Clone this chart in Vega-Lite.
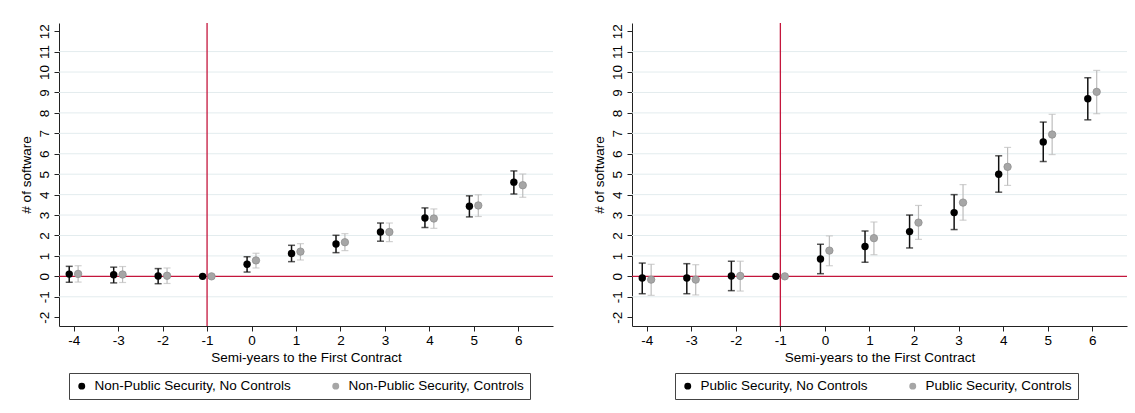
{
  "$schema": "https://vega.github.io/schema/vega-lite/v6.json",
  "background": "white",
  "padding": {"left": 19, "top": 22, "right": 0, "bottom": 0},
  "spacing": 38,
  "datasets": {
    "est": [
      {"panel": "Non-Public Security", "model": "No Controls", "series": "Non-Public Security, No Controls", "t": -4, "est": 0.11, "lo": -0.29, "hi": 0.49},
      {"panel": "Non-Public Security", "model": "No Controls", "series": "Non-Public Security, No Controls", "t": -3, "est": 0.08, "lo": -0.32, "hi": 0.45},
      {"panel": "Non-Public Security", "model": "No Controls", "series": "Non-Public Security, No Controls", "t": -2, "est": 0.02, "lo": -0.36, "hi": 0.38},
      {"panel": "Non-Public Security", "model": "No Controls", "series": "Non-Public Security, No Controls", "t": -1, "est": 0},
      {"panel": "Non-Public Security", "model": "No Controls", "series": "Non-Public Security, No Controls", "t": 0, "est": 0.59, "lo": 0.21, "hi": 0.96},
      {"panel": "Non-Public Security", "model": "No Controls", "series": "Non-Public Security, No Controls", "t": 1, "est": 1.12, "lo": 0.72, "hi": 1.52},
      {"panel": "Non-Public Security", "model": "No Controls", "series": "Non-Public Security, No Controls", "t": 2, "est": 1.58, "lo": 1.16, "hi": 2.01},
      {"panel": "Non-Public Security", "model": "No Controls", "series": "Non-Public Security, No Controls", "t": 3, "est": 2.17, "lo": 1.72, "hi": 2.61},
      {"panel": "Non-Public Security", "model": "No Controls", "series": "Non-Public Security, No Controls", "t": 4, "est": 2.86, "lo": 2.39, "hi": 3.35},
      {"panel": "Non-Public Security", "model": "No Controls", "series": "Non-Public Security, No Controls", "t": 5, "est": 3.43, "lo": 2.91, "hi": 3.94},
      {"panel": "Non-Public Security", "model": "No Controls", "series": "Non-Public Security, No Controls", "t": 6, "est": 4.61, "lo": 4.03, "hi": 5.16},
      {"panel": "Non-Public Security", "model": "Controls", "series": "Non-Public Security, Controls", "t": -4, "est": 0.12, "lo": -0.28, "hi": 0.52},
      {"panel": "Non-Public Security", "model": "Controls", "series": "Non-Public Security, Controls", "t": -3, "est": 0.09, "lo": -0.3, "hi": 0.48},
      {"panel": "Non-Public Security", "model": "Controls", "series": "Non-Public Security, Controls", "t": -2, "est": 0.03, "lo": -0.35, "hi": 0.41},
      {"panel": "Non-Public Security", "model": "Controls", "series": "Non-Public Security, Controls", "t": -1, "est": 0},
      {"panel": "Non-Public Security", "model": "Controls", "series": "Non-Public Security, Controls", "t": 0, "est": 0.78, "lo": 0.41, "hi": 1.13},
      {"panel": "Non-Public Security", "model": "Controls", "series": "Non-Public Security, Controls", "t": 1, "est": 1.21, "lo": 0.8, "hi": 1.6},
      {"panel": "Non-Public Security", "model": "Controls", "series": "Non-Public Security, Controls", "t": 2, "est": 1.67, "lo": 1.26, "hi": 2.09},
      {"panel": "Non-Public Security", "model": "Controls", "series": "Non-Public Security, Controls", "t": 3, "est": 2.17, "lo": 1.7, "hi": 2.61},
      {"panel": "Non-Public Security", "model": "Controls", "series": "Non-Public Security, Controls", "t": 4, "est": 2.83, "lo": 2.35, "hi": 3.3},
      {"panel": "Non-Public Security", "model": "Controls", "series": "Non-Public Security, Controls", "t": 5, "est": 3.47, "lo": 2.93, "hi": 3.99},
      {"panel": "Non-Public Security", "model": "Controls", "series": "Non-Public Security, Controls", "t": 6, "est": 4.46, "lo": 3.87, "hi": 5.01},
      {"panel": "Public Security", "model": "No Controls", "series": "Public Security, No Controls", "t": -4, "est": -0.08, "lo": -0.85, "hi": 0.65},
      {"panel": "Public Security", "model": "No Controls", "series": "Public Security, No Controls", "t": -3, "est": -0.08, "lo": -0.85, "hi": 0.62},
      {"panel": "Public Security", "model": "No Controls", "series": "Public Security, No Controls", "t": -2, "est": 0.02, "lo": -0.7, "hi": 0.74},
      {"panel": "Public Security", "model": "No Controls", "series": "Public Security, No Controls", "t": -1, "est": 0},
      {"panel": "Public Security", "model": "No Controls", "series": "Public Security, No Controls", "t": 0, "est": 0.85, "lo": 0.13, "hi": 1.57},
      {"panel": "Public Security", "model": "No Controls", "series": "Public Security, No Controls", "t": 1, "est": 1.46, "lo": 0.69, "hi": 2.22},
      {"panel": "Public Security", "model": "No Controls", "series": "Public Security, No Controls", "t": 2, "est": 2.19, "lo": 1.39, "hi": 3.0},
      {"panel": "Public Security", "model": "No Controls", "series": "Public Security, No Controls", "t": 3, "est": 3.12, "lo": 2.29, "hi": 4.0},
      {"panel": "Public Security", "model": "No Controls", "series": "Public Security, No Controls", "t": 4, "est": 5.0, "lo": 4.12, "hi": 5.9},
      {"panel": "Public Security", "model": "No Controls", "series": "Public Security, No Controls", "t": 5, "est": 6.58, "lo": 5.62, "hi": 7.55},
      {"panel": "Public Security", "model": "No Controls", "series": "Public Security, No Controls", "t": 6, "est": 8.69, "lo": 7.66, "hi": 9.72},
      {"panel": "Public Security", "model": "Controls", "series": "Public Security, Controls", "t": -4, "est": -0.16, "lo": -0.93, "hi": 0.59},
      {"panel": "Public Security", "model": "Controls", "series": "Public Security, Controls", "t": -3, "est": -0.16, "lo": -0.91, "hi": 0.57},
      {"panel": "Public Security", "model": "Controls", "series": "Public Security, Controls", "t": -2, "est": 0.02, "lo": -0.72, "hi": 0.74},
      {"panel": "Public Security", "model": "Controls", "series": "Public Security, Controls", "t": -1, "est": 0},
      {"panel": "Public Security", "model": "Controls", "series": "Public Security, Controls", "t": 0, "est": 1.26, "lo": 0.52, "hi": 1.98},
      {"panel": "Public Security", "model": "Controls", "series": "Public Security, Controls", "t": 1, "est": 1.87, "lo": 1.06, "hi": 2.66},
      {"panel": "Public Security", "model": "Controls", "series": "Public Security, Controls", "t": 2, "est": 2.63, "lo": 1.81, "hi": 3.47},
      {"panel": "Public Security", "model": "Controls", "series": "Public Security, Controls", "t": 3, "est": 3.61, "lo": 2.75, "hi": 4.49},
      {"panel": "Public Security", "model": "Controls", "series": "Public Security, Controls", "t": 4, "est": 5.36, "lo": 4.45, "hi": 6.31},
      {"panel": "Public Security", "model": "Controls", "series": "Public Security, Controls", "t": 5, "est": 6.94, "lo": 5.96, "hi": 7.93},
      {"panel": "Public Security", "model": "Controls", "series": "Public Security, Controls", "t": 6, "est": 9.03, "lo": 7.96, "hi": 10.08}
    ],
    "grid": [{"g": -1}, {"g": 1}, {"g": 2}, {"g": 3}, {"g": 4}, {"g": 5}, {"g": 6}, {"g": 7}, {"g": 8}, {"g": 9}, {"g": 10}, {"g": 11}],
    "ref": [{"xline": -1, "yline": 0}]
  },
  "hconcat": [
    {
      "width": 494,
      "height": 303,
      "layer": [
        {"data": {"name": "grid"}, "mark": {"type": "rule", "color": "#e3ecee", "strokeWidth": 1},
         "encoding": {"y": {"field": "g", "type": "quantitative", "title": "# of software", "scale": {"domain": [-2.43, 12.4], "nice": false, "zero": false}, "axis": {"values": [-2, -1, 0, 1, 2, 3, 4, 5, 6, 7, 8, 9, 10, 11, 12]}}}},
        {"data": {"name": "ref"}, "mark": {"type": "rule", "color": "#c4163c", "strokeWidth": 1.3},
         "encoding": {"x": {"field": "xline", "type": "quantitative", "title": "Semi-years to the First Contract", "scale": {"domain": [-4.33, 6.78], "nice": false, "zero": false}, "axis": {"values": [-4, -3, -2, -1, 0, 1, 2, 3, 4, 5, 6]}}}},
        {"data": {"name": "ref"}, "mark": {"type": "rule", "color": "#c4163c", "strokeWidth": 1.3},
         "encoding": {"y": {"field": "yline", "type": "quantitative", "title": "# of software", "scale": {"domain": [-2.43, 12.4], "nice": false, "zero": false}, "axis": {"values": [-2, -1, 0, 1, 2, 3, 4, 5, 6, 7, 8, 9, 10, 11, 12]}}}},
        {
          "data": {"name": "est"},
          "transform": [{"filter": "datum.panel === 'Non-Public Security' && datum.model === 'No Controls'"}],
          "encoding": {
            "x": {"field": "t", "type": "quantitative", "title": "Semi-years to the First Contract", "scale": {"domain": [-4.33, 6.78], "nice": false, "zero": false}, "axis": {"values": [-4, -3, -2, -1, 0, 1, 2, 3, 4, 5, 6]}}
          },
          "layer": [
            {"mark": {"type": "rule", "strokeWidth": 1.5, "color": "#111111", "xOffset": -4.45},
             "encoding": {"y": {"field": "lo", "type": "quantitative", "title": "# of software", "scale": {"domain": [-2.43, 12.4], "nice": false, "zero": false}, "axis": {"values": [-2, -1, 0, 1, 2, 3, 4, 5, 6, 7, 8, 9, 10, 11, 12]}}, "y2": {"field": "hi"}}},
            {"mark": {"type": "tick", "orient": "horizontal", "size": 7, "thickness": 1.5, "color": "#111111", "xOffset": -4.45},
             "encoding": {"y": {"field": "lo", "type": "quantitative", "title": "# of software", "scale": {"domain": [-2.43, 12.4], "nice": false, "zero": false}, "axis": {"values": [-2, -1, 0, 1, 2, 3, 4, 5, 6, 7, 8, 9, 10, 11, 12]}}}},
            {"mark": {"type": "tick", "orient": "horizontal", "size": 7, "thickness": 1.5, "color": "#111111", "xOffset": -4.45},
             "encoding": {"y": {"field": "hi", "type": "quantitative", "title": "# of software", "scale": {"domain": [-2.43, 12.4], "nice": false, "zero": false}, "axis": {"values": [-2, -1, 0, 1, 2, 3, 4, 5, 6, 7, 8, 9, 10, 11, 12]}}}}
          ]
        },
        {
          "data": {"name": "est"},
          "transform": [{"filter": "datum.panel === 'Non-Public Security' && datum.model === 'Controls'"}],
          "encoding": {
            "x": {"field": "t", "type": "quantitative", "title": "Semi-years to the First Contract", "scale": {"domain": [-4.33, 6.78], "nice": false, "zero": false}, "axis": {"values": [-4, -3, -2, -1, 0, 1, 2, 3, 4, 5, 6]}}
          },
          "layer": [
            {"mark": {"type": "rule", "strokeWidth": 1.2, "color": "#bdbdbd", "xOffset": 4.45},
             "encoding": {"y": {"field": "lo", "type": "quantitative", "title": "# of software", "scale": {"domain": [-2.43, 12.4], "nice": false, "zero": false}, "axis": {"values": [-2, -1, 0, 1, 2, 3, 4, 5, 6, 7, 8, 9, 10, 11, 12]}}, "y2": {"field": "hi"}}},
            {"mark": {"type": "tick", "orient": "horizontal", "size": 7, "thickness": 1.2, "color": "#bdbdbd", "xOffset": 4.45},
             "encoding": {"y": {"field": "lo", "type": "quantitative", "title": "# of software", "scale": {"domain": [-2.43, 12.4], "nice": false, "zero": false}, "axis": {"values": [-2, -1, 0, 1, 2, 3, 4, 5, 6, 7, 8, 9, 10, 11, 12]}}}},
            {"mark": {"type": "tick", "orient": "horizontal", "size": 7, "thickness": 1.2, "color": "#bdbdbd", "xOffset": 4.45},
             "encoding": {"y": {"field": "hi", "type": "quantitative", "title": "# of software", "scale": {"domain": [-2.43, 12.4], "nice": false, "zero": false}, "axis": {"values": [-2, -1, 0, 1, 2, 3, 4, 5, 6, 7, 8, 9, 10, 11, 12]}}}}
          ]
        },
        {
          "data": {"name": "est"},
          "transform": [{"filter": "datum.panel === 'Non-Public Security' && datum.model === 'No Controls'"}],
          "mark": {"type": "circle", "size": 55, "opacity": 1, "strokeWidth": 0, "xOffset": -4.45},
          "encoding": {
            "x": {"field": "t", "type": "quantitative", "title": "Semi-years to the First Contract", "scale": {"domain": [-4.33, 6.78], "nice": false, "zero": false}, "axis": {"values": [-4, -3, -2, -1, 0, 1, 2, 3, 4, 5, 6]}},
            "y": {"field": "est", "type": "quantitative", "title": "# of software", "scale": {"domain": [-2.43, 12.4], "nice": false, "zero": false}, "axis": {"values": [-2, -1, 0, 1, 2, 3, 4, 5, 6, 7, 8, 9, 10, 11, 12]}},
            "fill": {"field": "series", "type": "nominal", "scale": {"domain": ["Non-Public Security, No Controls", "Non-Public Security, Controls"], "range": ["#000000", "#a6a6a6"]},
              "legend": {"orient": "none", "legendX": 10, "legendY": 350, "direction": "horizontal", "columns": 2, "title": null}}
          }
        },
        {
          "data": {"name": "est"},
          "transform": [{"filter": "datum.panel === 'Non-Public Security' && datum.model === 'Controls'"}],
          "mark": {"type": "circle", "size": 55, "opacity": 1, "stroke": "#8f8f8f", "strokeWidth": 0.8, "xOffset": 4.45},
          "encoding": {
            "x": {"field": "t", "type": "quantitative", "title": "Semi-years to the First Contract", "scale": {"domain": [-4.33, 6.78], "nice": false, "zero": false}, "axis": {"values": [-4, -3, -2, -1, 0, 1, 2, 3, 4, 5, 6]}},
            "y": {"field": "est", "type": "quantitative", "title": "# of software", "scale": {"domain": [-2.43, 12.4], "nice": false, "zero": false}, "axis": {"values": [-2, -1, 0, 1, 2, 3, 4, 5, 6, 7, 8, 9, 10, 11, 12]}},
            "fill": {"field": "series", "type": "nominal", "scale": {"domain": ["Non-Public Security, No Controls", "Non-Public Security, Controls"], "range": ["#000000", "#a6a6a6"]},
              "legend": {"orient": "none", "legendX": 10, "legendY": 350, "direction": "horizontal", "columns": 2, "title": null}}
          }
        }
      ]
    },
    {
      "width": 495,
      "height": 303,
      "layer": [
        {"data": {"name": "grid"}, "mark": {"type": "rule", "color": "#e3ecee", "strokeWidth": 1},
         "encoding": {"y": {"field": "g", "type": "quantitative", "title": "# of software", "scale": {"domain": [-2.43, 12.4], "nice": false, "zero": false}, "axis": {"values": [-2, -1, 0, 1, 2, 3, 4, 5, 6, 7, 8, 9, 10, 11, 12]}}}},
        {"data": {"name": "ref"}, "mark": {"type": "rule", "color": "#c4163c", "strokeWidth": 1.3},
         "encoding": {"x": {"field": "xline", "type": "quantitative", "title": "Semi-years to the First Contract", "scale": {"domain": [-4.33, 6.78], "nice": false, "zero": false}, "axis": {"values": [-4, -3, -2, -1, 0, 1, 2, 3, 4, 5, 6]}}}},
        {"data": {"name": "ref"}, "mark": {"type": "rule", "color": "#c4163c", "strokeWidth": 1.3},
         "encoding": {"y": {"field": "yline", "type": "quantitative", "title": "# of software", "scale": {"domain": [-2.43, 12.4], "nice": false, "zero": false}, "axis": {"values": [-2, -1, 0, 1, 2, 3, 4, 5, 6, 7, 8, 9, 10, 11, 12]}}}},
        {
          "data": {"name": "est"},
          "transform": [{"filter": "datum.panel === 'Public Security' && datum.model === 'No Controls'"}],
          "encoding": {
            "x": {"field": "t", "type": "quantitative", "title": "Semi-years to the First Contract", "scale": {"domain": [-4.33, 6.78], "nice": false, "zero": false}, "axis": {"values": [-4, -3, -2, -1, 0, 1, 2, 3, 4, 5, 6]}}
          },
          "layer": [
            {"mark": {"type": "rule", "strokeWidth": 1.5, "color": "#111111", "xOffset": -4.45},
             "encoding": {"y": {"field": "lo", "type": "quantitative", "title": "# of software", "scale": {"domain": [-2.43, 12.4], "nice": false, "zero": false}, "axis": {"values": [-2, -1, 0, 1, 2, 3, 4, 5, 6, 7, 8, 9, 10, 11, 12]}}, "y2": {"field": "hi"}}},
            {"mark": {"type": "tick", "orient": "horizontal", "size": 7, "thickness": 1.5, "color": "#111111", "xOffset": -4.45},
             "encoding": {"y": {"field": "lo", "type": "quantitative", "title": "# of software", "scale": {"domain": [-2.43, 12.4], "nice": false, "zero": false}, "axis": {"values": [-2, -1, 0, 1, 2, 3, 4, 5, 6, 7, 8, 9, 10, 11, 12]}}}},
            {"mark": {"type": "tick", "orient": "horizontal", "size": 7, "thickness": 1.5, "color": "#111111", "xOffset": -4.45},
             "encoding": {"y": {"field": "hi", "type": "quantitative", "title": "# of software", "scale": {"domain": [-2.43, 12.4], "nice": false, "zero": false}, "axis": {"values": [-2, -1, 0, 1, 2, 3, 4, 5, 6, 7, 8, 9, 10, 11, 12]}}}}
          ]
        },
        {
          "data": {"name": "est"},
          "transform": [{"filter": "datum.panel === 'Public Security' && datum.model === 'Controls'"}],
          "encoding": {
            "x": {"field": "t", "type": "quantitative", "title": "Semi-years to the First Contract", "scale": {"domain": [-4.33, 6.78], "nice": false, "zero": false}, "axis": {"values": [-4, -3, -2, -1, 0, 1, 2, 3, 4, 5, 6]}}
          },
          "layer": [
            {"mark": {"type": "rule", "strokeWidth": 1.2, "color": "#bdbdbd", "xOffset": 4.45},
             "encoding": {"y": {"field": "lo", "type": "quantitative", "title": "# of software", "scale": {"domain": [-2.43, 12.4], "nice": false, "zero": false}, "axis": {"values": [-2, -1, 0, 1, 2, 3, 4, 5, 6, 7, 8, 9, 10, 11, 12]}}, "y2": {"field": "hi"}}},
            {"mark": {"type": "tick", "orient": "horizontal", "size": 7, "thickness": 1.2, "color": "#bdbdbd", "xOffset": 4.45},
             "encoding": {"y": {"field": "lo", "type": "quantitative", "title": "# of software", "scale": {"domain": [-2.43, 12.4], "nice": false, "zero": false}, "axis": {"values": [-2, -1, 0, 1, 2, 3, 4, 5, 6, 7, 8, 9, 10, 11, 12]}}}},
            {"mark": {"type": "tick", "orient": "horizontal", "size": 7, "thickness": 1.2, "color": "#bdbdbd", "xOffset": 4.45},
             "encoding": {"y": {"field": "hi", "type": "quantitative", "title": "# of software", "scale": {"domain": [-2.43, 12.4], "nice": false, "zero": false}, "axis": {"values": [-2, -1, 0, 1, 2, 3, 4, 5, 6, 7, 8, 9, 10, 11, 12]}}}}
          ]
        },
        {
          "data": {"name": "est"},
          "transform": [{"filter": "datum.panel === 'Public Security' && datum.model === 'No Controls'"}],
          "mark": {"type": "circle", "size": 55, "opacity": 1, "strokeWidth": 0, "xOffset": -4.45},
          "encoding": {
            "x": {"field": "t", "type": "quantitative", "title": "Semi-years to the First Contract", "scale": {"domain": [-4.33, 6.78], "nice": false, "zero": false}, "axis": {"values": [-4, -3, -2, -1, 0, 1, 2, 3, 4, 5, 6]}},
            "y": {"field": "est", "type": "quantitative", "title": "# of software", "scale": {"domain": [-2.43, 12.4], "nice": false, "zero": false}, "axis": {"values": [-2, -1, 0, 1, 2, 3, 4, 5, 6, 7, 8, 9, 10, 11, 12]}},
            "fill": {"field": "series", "type": "nominal", "scale": {"domain": ["Public Security, No Controls", "Public Security, Controls"], "range": ["#000000", "#a6a6a6"]},
              "legend": {"orient": "none", "legendX": 43, "legendY": 350, "direction": "horizontal", "columns": 2, "title": null}}
          }
        },
        {
          "data": {"name": "est"},
          "transform": [{"filter": "datum.panel === 'Public Security' && datum.model === 'Controls'"}],
          "mark": {"type": "circle", "size": 55, "opacity": 1, "stroke": "#8f8f8f", "strokeWidth": 0.8, "xOffset": 4.45},
          "encoding": {
            "x": {"field": "t", "type": "quantitative", "title": "Semi-years to the First Contract", "scale": {"domain": [-4.33, 6.78], "nice": false, "zero": false}, "axis": {"values": [-4, -3, -2, -1, 0, 1, 2, 3, 4, 5, 6]}},
            "y": {"field": "est", "type": "quantitative", "title": "# of software", "scale": {"domain": [-2.43, 12.4], "nice": false, "zero": false}, "axis": {"values": [-2, -1, 0, 1, 2, 3, 4, 5, 6, 7, 8, 9, 10, 11, 12]}},
            "fill": {"field": "series", "type": "nominal", "scale": {"domain": ["Public Security, No Controls", "Public Security, Controls"], "range": ["#000000", "#a6a6a6"]},
              "legend": {"orient": "none", "legendX": 43, "legendY": 350, "direction": "horizontal", "columns": 2, "title": null}}
          }
        }
      ]
    }
  ],
  "resolve": {"scale": {"fill": "independent"}, "legend": {"fill": "independent"}},
  "config": {
    "font": "Liberation Sans",
    "view": {"stroke": null},
    "axis": {"labelFont": "Liberation Sans", "titleFont": "Liberation Sans", "labelFontSize": 13.5, "titleFontSize": 13.5, "titleFontWeight": "normal", "labelColor": "#000000", "titleColor": "#000000", "domainColor": "#222222", "tickColor": "#222222", "tickSize": 5, "grid": false, "labelFlush": false, "labelOverlap": false, "labelExpr": "'' + datum.value"},
    "axisY": {"labelAngle": -90, "labelAlign": "center", "labelBaseline": "bottom", "labelPadding": 3, "titlePadding": 4},
    "axisX": {"labelPadding": 2, "titlePadding": 4},
    "legend": {"labelFont": "Liberation Sans", "labelFontSize": 13.5, "labelColor": "#000000", "symbolType": "circle", "symbolSize": 48, "symbolStrokeWidth": 0, "labelOffset": 6, "columnPadding": 38, "padding": 6, "strokeColor": "#444444", "fillColor": "#ffffff", "gridAlign": "all", "labelLimit": 400}
  }
}
